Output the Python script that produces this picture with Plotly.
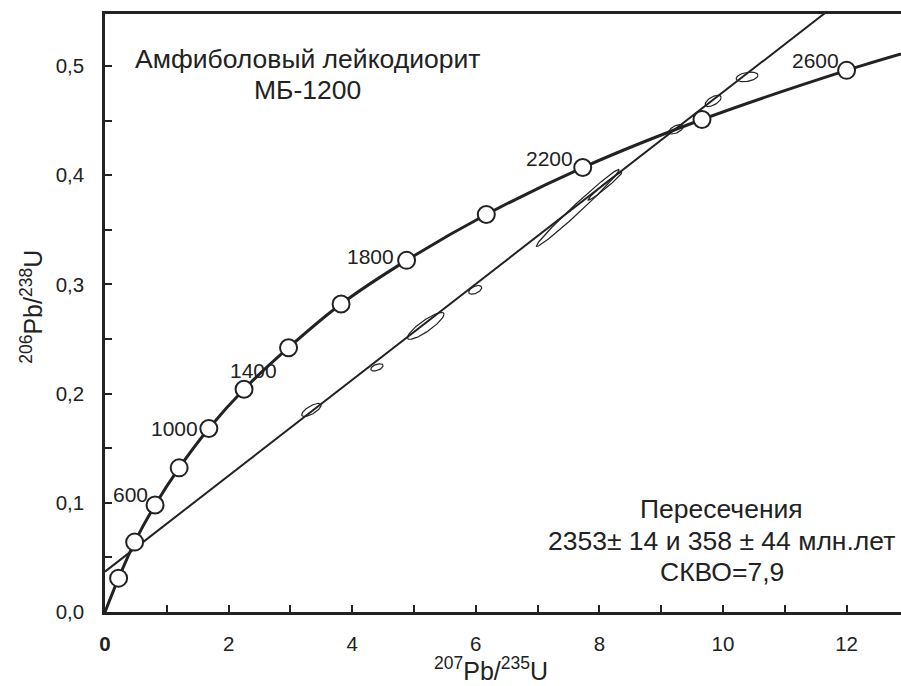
import numpy as np
import plotly.graph_objects as go

# Concordia reference points (ages in Ma)
conc_age = [200, 400, 600, 800, 1000, 1200, 1400, 1600, 1800, 2000, 2200, 2400, 2600]
conc_x = [0.22, 0.48, 0.81, 1.20, 1.68, 2.25, 2.97, 3.82, 4.88, 6.17, 7.73, 9.66, 12.00]
conc_y = [0.031, 0.064, 0.098, 0.132, 0.168, 0.204, 0.242, 0.282, 0.322, 0.364, 0.407, 0.451, 0.496]
# Concordia curve end points (origin and beyond the frame)
curve_start = (0.0, 0.0)
curve_end = (12.88, 0.511)

# Labelled ages
label_age = ["600", "1000", "1400", "1800", "2200", "2600"]
label_x = [0.42, 1.12, 2.40, 4.29, 7.20, 11.49]
label_y = [0.108, 0.168, 0.221, 0.326, 0.415, 0.505]

# Discordia line end points
disc_x = [0.0, 11.73]
disc_y = [0.037, 0.552]

# Analyses: centre, half-extent in x, half-extent in y, correlation
ell_x = [3.34, 4.40, 5.19, 5.99, 7.65, 8.09, 9.24, 9.84, 10.39]
ell_y = [0.185, 0.224, 0.262, 0.295, 0.370, 0.390, 0.442, 0.468, 0.490]
ell_sx = [0.157, 0.100, 0.296, 0.105, 0.671, 0.275, 0.120, 0.130, 0.176]
ell_sy = [0.0060, 0.0033, 0.0123, 0.0040, 0.0353, 0.0129, 0.0043, 0.0052, 0.0044]
ell_rho = [0.72, 0.48, 0.87, 0.50, 0.989, 0.979, 0.58, 0.61, 0.33]

x_ticks = [0, 2, 4, 6, 8, 10, 12]
x_ticktext = ["<b>0</b>", "2", "4", "6", "8", "10", "12"]
y_ticks = [0.0, 0.1, 0.2, 0.3, 0.4, 0.5]
y_ticktext = ["0,0", "0,1", "0,2", "0,3", "0,4", "0,5"]

INK = "#222222"
FONT = "Liberation Sans, Arial, sans-serif"

fig = go.Figure()

# ellipses
t = np.linspace(0, 2 * np.pi, 121)
for cx, cy, sx, sy, r in zip(ell_x, ell_y, ell_sx, ell_sy, ell_rho):
    ex = cx + sx * np.cos(t)
    ey = cy + sy * (r * np.cos(t) + np.sqrt(1 - r * r) * np.sin(t))
    fig.add_trace(go.Scatter(x=ex, y=ey, mode="lines",
                             line=dict(color=INK, width=1.2),
                             hoverinfo="skip", showlegend=False))

# discordia
fig.add_trace(go.Scatter(x=disc_x, y=disc_y, mode="lines",
                         line=dict(color=INK, width=2), showlegend=False))

# concordia curve
cx_all = [curve_start[0]] + conc_x + [curve_end[0]]
cy_all = [curve_start[1]] + conc_y + [curve_end[1]]
fig.add_trace(go.Scatter(x=cx_all, y=cy_all, mode="lines",
                         line=dict(color=INK, width=3, shape="spline", smoothing=0.8),
                         showlegend=False))
fig.add_trace(go.Scatter(x=conc_x, y=conc_y, mode="markers",
                         marker=dict(symbol="circle", size=17, color="white",
                                     line=dict(color=INK, width=2)),
                         text=[str(a) for a in conc_age], showlegend=False, cliponaxis=False))

for txt, lx, ly in zip(label_age, label_x, label_y):
    fig.add_annotation(x=lx, y=ly, text=txt, showarrow=False,
                       xanchor="center", yanchor="middle",
                       font=dict(size=21, color=INK, family=FONT))

BIG = 26.5
# text blocks
fig.add_annotation(xref="paper", yref="paper", x=0.254, y=0.925,
                   text="Амфиболовый лейкодиорит", showarrow=False,
                   xanchor="center", yanchor="middle",
                   font=dict(size=BIG, color=INK, family=FONT))
fig.add_annotation(xref="paper", yref="paper", x=0.254, y=0.873,
                   text="МБ-1200", showarrow=False,
                   xanchor="center", yanchor="middle",
                   font=dict(size=BIG, color=INK, family=FONT))
fig.add_annotation(xref="paper", yref="paper", x=0.775, y=0.172,
                   text="Пересечения", showarrow=False,
                   xanchor="center", yanchor="middle",
                   font=dict(size=BIG, color=INK, family=FONT))
fig.add_annotation(xref="paper", yref="paper", x=0.775, y=0.118,
                   text="2353± 14 и 358 ± 44 млн.лет", showarrow=False,
                   xanchor="center", yanchor="middle",
                   font=dict(size=BIG, color=INK, family=FONT))
fig.add_annotation(xref="paper", yref="paper", x=0.775, y=0.067,
                   text="СКВО=7,9", showarrow=False,
                   xanchor="center", yanchor="middle",
                   font=dict(size=BIG, color=INK, family=FONT))

# axis titles
fig.add_annotation(xref="paper", yref="paper", x=0.485, y=-0.095,
                   text="<sup>207</sup>Pb/<sup>235</sup>U", showarrow=False,
                   xanchor="center", yanchor="middle",
                   font=dict(size=25, color=INK, family=FONT))
fig.add_annotation(xref="paper", yref="paper", x=-0.092, y=0.51,
                   text="<sup>206</sup>Pb/<sup>238</sup>U", showarrow=False,
                   textangle=-90, xanchor="center", yanchor="middle",
                   font=dict(size=25, color=INK, family=FONT))

fig.update_layout(
    width=901, height=686,
    margin=dict(l=105, r=0, t=14, b=74),
    paper_bgcolor="white", plot_bgcolor="white",
    showlegend=False,
    font=dict(family=FONT, color=INK),
)
fig.update_xaxes(range=[0, 12.88], showgrid=False, zeroline=False,
                 showline=True, linecolor=INK, linewidth=2.5, mirror=True,
                 ticks="inside", ticklen=7, tickwidth=1.8, tickcolor=INK,
                 tickmode="array", tickvals=x_ticks, ticktext=x_ticktext,
                 minor=dict(ticks="inside", dtick=1, tick0=0, ticklen=7,
                            tickwidth=1.8, tickcolor=INK, showgrid=False),
                 tickfont=dict(size=20.5, color=INK, family=FONT),
                 ticklabelstandoff=12)
fig.update_yaxes(range=[0, 0.5476], showgrid=False, zeroline=False,
                 showline=True, linecolor=INK, linewidth=2.5, mirror=False,
                 ticks="inside", ticklen=7, tickwidth=1.8, tickcolor=INK,
                 tickmode="array", tickvals=y_ticks, ticktext=y_ticktext,
                 minor=dict(ticks="inside", dtick=0.05, tick0=0, ticklen=7,
                            tickwidth=1.8, tickcolor=INK, showgrid=False),
                 tickfont=dict(size=20.5, color=INK, family=FONT),
                 ticklabelstandoff=14)

fig.write_html("out.html")
